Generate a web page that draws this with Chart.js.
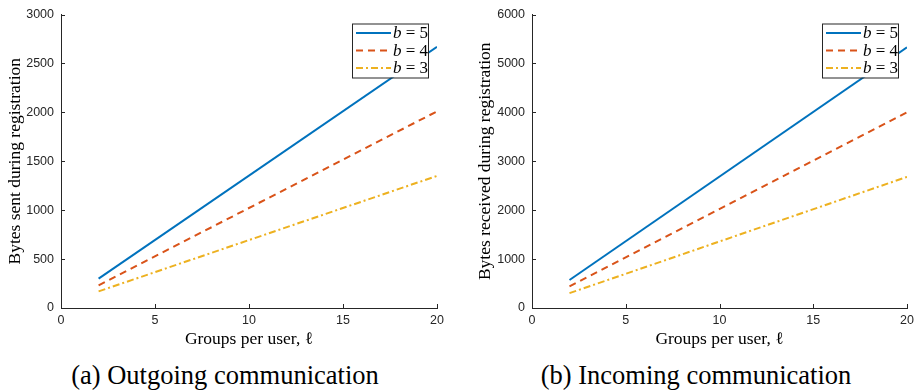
<!DOCTYPE html>
<html>
<head>
<meta charset="utf-8">
<script src="https://cdn.jsdelivr.net/npm/chart.js@4.4.1/dist/chart.umd.min.js"></script>
<style>
  body { margin: 0; background: #fff; width: 920px; height: 391px; overflow: hidden; }
  .panel { position: absolute; top: 0; width: 460px; height: 391px; }
  .panel canvas { position: absolute; left: 0; top: 0; }
  .caption { position: absolute; top: 360px; font-family: "Liberation Serif", "DejaVu Serif", serif; font-size: 26.5px; color: #000; white-space: nowrap; transform: translateX(-50%); }
</style>
</head>
<body>
<div class="panel" style="left:0">
  <canvas id="sentChart" width="460" height="350"></canvas>
  <div class="caption" style="left:225px">(a) Outgoing communication</div>
</div>
<div class="panel" style="left:460px">
  <canvas id="recvChart" width="460" height="350"></canvas>
  <div class="caption" style="left:236px">(b) Incoming communication</div>
</div>
<script>
// groups per user (x) - lines are straight, so the end points are enough
const groups = [2, 20];

// outgoing bytes
const sentB5 = [300, 2670];
const sentB4 = [232, 2010];
const sentB3 = [170, 1350];

// incoming bytes
const recvB5 = [572, 5330];
const recvB4 = [444, 4000];
const recvB3 = [303, 2680];

const xTicks = [0, 5, 10, 15, 20];
const sentTicks = [0, 500, 1000, 1500, 2000, 2500, 3000];
const recvTicks = [0, 1000, 2000, 3000, 4000, 5000, 6000];
const seriesLabels = ['5', '4', '3'];

const axisColor = '#262626';
const colors = ['#0072BD', '#D95319', '#EDB120'];
const dashes = [[], [7, 5], [7, 3, 2, 3]];

function toPoints(ys) {
    return groups.map((g, i) => ({ x: g, y: ys[i] }));
}

// small ticks that point into the plot area
const innerTicks = {
    id: 'innerTicks',
    afterDraw(chart) {
        const ctx = chart.ctx;
        const area = chart.chartArea;
        const xs = chart.scales.x, ys = chart.scales.y;
        ctx.save();
        ctx.strokeStyle = axisColor;
        ctx.lineWidth = 1;
        ctx.beginPath();
        xs.ticks.forEach(t => {
            const px = Math.round(xs.getPixelForValue(t.value)) + 0.5;
            ctx.moveTo(px, area.bottom);
            ctx.lineTo(px, area.bottom - 4);
        });
        ys.ticks.forEach(t => {
            const py = Math.round(ys.getPixelForValue(t.value)) + 0.5;
            ctx.moveTo(area.left, py);
            ctx.lineTo(area.left + 4, py);
        });
        ctx.stroke();
        ctx.restore();
    }
};

// legend box inside the top right corner
const boxLegend = {
    id: 'boxLegend',
    afterDraw(chart) {
        const ctx = chart.ctx;
        const area = chart.chartArea;
        const w = 76, h = 54;
        const x0 = area.right - 9 - w, y0 = area.top + 9;
        ctx.save();
        ctx.fillStyle = '#fff';
        ctx.fillRect(x0, y0, w, h);
        ctx.strokeStyle = '#262626';
        ctx.lineWidth = 1;
        ctx.strokeRect(x0 + 0.5, y0 + 0.5, w, h);
        chart.data.datasets.forEach((ds, i) => {
            const cy = y0 + 9.5 + i * 17.5;
            ctx.strokeStyle = ds.borderColor;
            ctx.lineWidth = 2;
            ctx.setLineDash(ds.borderDash);
            ctx.beginPath();
            ctx.moveTo(x0 + 4, cy);
            ctx.lineTo(x0 + 39, cy);
            ctx.stroke();
            ctx.setLineDash([]);
            ctx.fillStyle = '#000';
            ctx.textBaseline = 'middle';
            ctx.font = 'italic 17px "Liberation Serif", serif';
            ctx.fillText('b', x0 + 41, cy + 1);
            const bw = ctx.measureText('b').width;
            ctx.font = '17px "Liberation Serif", serif';
            ctx.fillText(' = ' + seriesLabels[i], x0 + 41 + bw, cy + 1);
        });
        ctx.restore();
    }
};

function renderChart(id, series, yMax, yTicks, yTitle, opts) {
    const ctx = document.getElementById(id).getContext('2d');
    const tickFont = { family: '"Liberation Sans", Arial, sans-serif', size: 12.5 };
    const titleFont = { family: '"Liberation Serif", serif', size: 17.5 };
    const config = {
        type: 'line',
        data: {
            datasets: series.map((s, i) => ({
                label: 'b = ' + seriesLabels[i],
                data: toPoints(s),
                borderColor: colors[i],
                borderWidth: 2,
                borderDash: dashes[i],
                pointRadius: 0,
                fill: false,
            }))
        },
        options: {
            responsive: false,
            animation: false,
            layout: { padding: { left: 0, right: opts.right, top: 11, bottom: 0 } },
            plugins: { legend: { display: false }, tooltip: { enabled: false } },
            scales: {
                x: {
                    type: 'linear',
                    min: 0,
                    max: 20,
                    afterBuildTicks: scale => { scale.ticks = xTicks.map(v => ({ value: v })); },
                    afterFit: scale => { scale.height = 42; },
                    grid: { display: true, drawOnChartArea: false, drawTicks: false },
                    border: { display: true, color: axisColor, width: 1 },
                    ticks: { color: axisColor, padding: 5, maxRotation: 0, font: tickFont,
                             callback: v => String(v) },
                    title: { display: true, text: 'Groups per user, ℓ', color: '#000', padding: { top: 0, bottom: 0 },
                             font: titleFont }
                },
                y: {
                    min: 0,
                    max: yMax,
                    afterBuildTicks: scale => { scale.ticks = yTicks.map(v => ({ value: v })); },
                    afterFit: scale => { scale.width = opts.left; },
                    grid: { display: true, drawOnChartArea: false, drawTicks: false },
                    border: { display: true, color: axisColor, width: 1 },
                    ticks: { color: axisColor, padding: 7, font: tickFont,
                             callback: v => String(v) },
                    title: { display: true, text: yTitle, color: '#000', padding: { top: opts.titlePad, bottom: 0 },
                             font: titleFont }
                }
            }
        },
        plugins: [innerTicks, boxLegend]
    };
    return new Chart(ctx, config);
}

renderChart('sentChart', [sentB5, sentB4, sentB3], 3000, sentTicks,
    'Bytes sent during registration', { left: 61, right: 23, titlePad: 5 });
renderChart('recvChart', [recvB5, recvB4, recvB3], 6000, recvTicks,
    'Bytes received during registration', { left: 72, right: 13, titlePad: 15 });
</script>
</body>
</html>
